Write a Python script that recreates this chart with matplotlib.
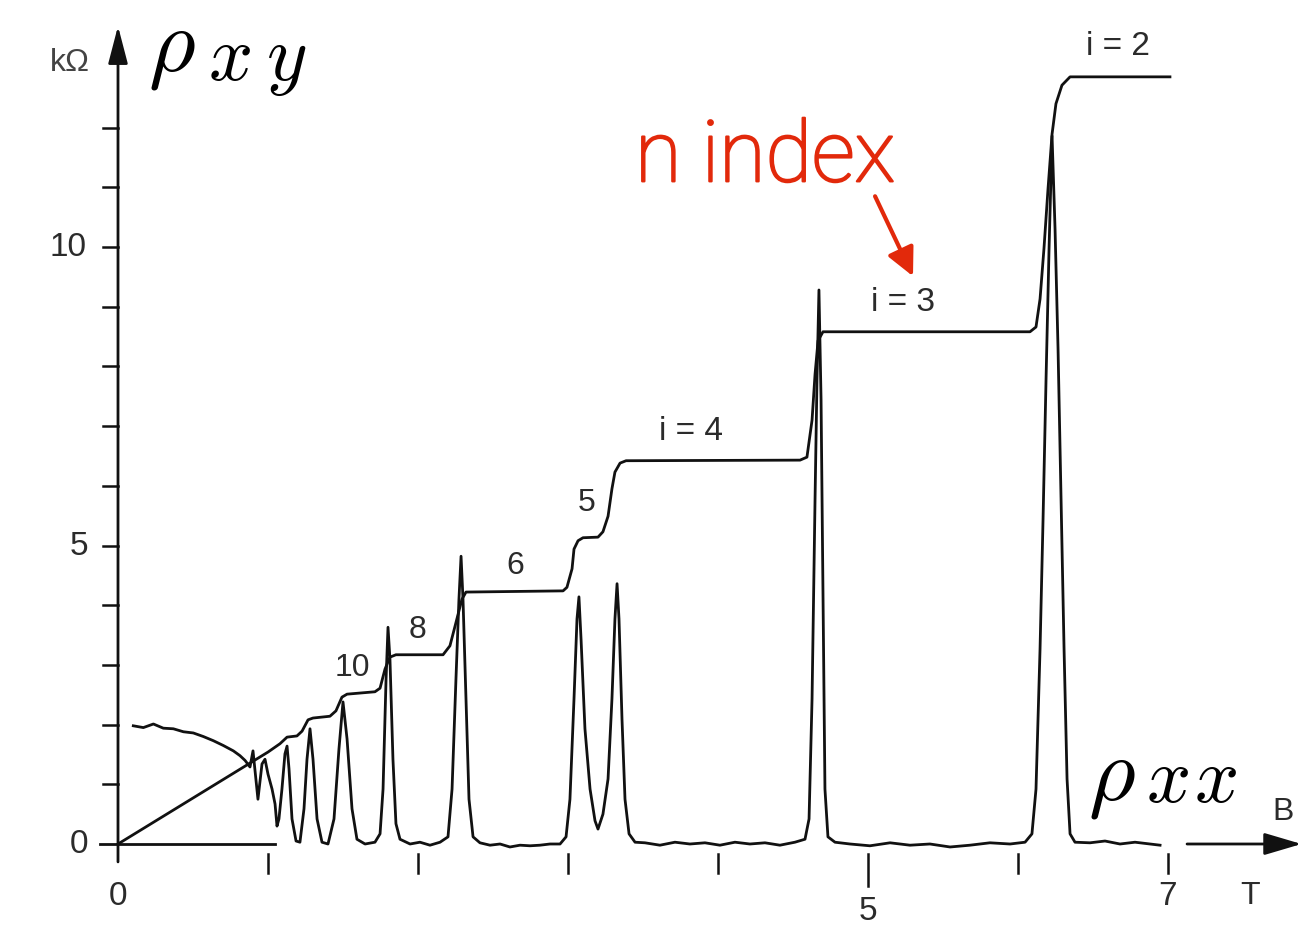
import matplotlib
matplotlib.use("Agg")
import matplotlib.pyplot as plt
import matplotlib.patheffects as pe

# ---------------- data (B in tesla, resistivity in kOhm) ----------------
rho_xy_B = [0.000, 1.000, 1.080, 1.127, 1.193, 1.227, 1.267, 1.300, 1.413, 1.453,
            1.493, 1.527, 1.713, 1.747, 1.780, 1.813, 1.853, 2.167, 2.213, 2.247,
            2.293, 2.320, 2.967, 2.993, 3.027, 3.040, 3.067, 3.100, 3.200, 3.233,
            3.267, 3.293, 3.313, 3.347, 3.387, 4.547, 4.593, 4.627, 4.647, 4.667,
            4.700, 6.080, 6.120, 6.147, 6.173, 6.200, 6.227, 6.253, 6.293, 6.347,
            7.013]
rho_xy_R = [0.00, 1.54, 1.68, 1.79, 1.81, 1.89, 2.08, 2.11, 2.14, 2.23,
            2.46, 2.51, 2.55, 2.61, 2.93, 3.13, 3.17, 3.17, 3.32, 3.65,
            4.10, 4.22, 4.24, 4.30, 4.61, 4.94, 5.08, 5.13, 5.14, 5.23,
            5.49, 5.95, 6.23, 6.38, 6.42, 6.43, 6.48, 7.10, 7.87, 8.43,
            8.58, 8.58, 8.66, 9.13, 9.97, 10.97, 11.89, 12.40, 12.71, 12.85,
            12.85]

rho_xx_B = [0.102, 0.169, 0.236, 0.302, 0.369, 0.436, 0.502, 0.569, 0.636, 0.702,
            0.769, 0.813, 0.847, 0.880, 0.900, 0.933, 0.960, 0.980, 1.000, 1.027,
            1.047, 1.060, 1.073, 1.093, 1.113, 1.127, 1.140, 1.160, 1.187, 1.213,
            1.240, 1.260, 1.280, 1.300, 1.327, 1.360, 1.400, 1.440, 1.473, 1.500,
            1.527, 1.560, 1.593, 1.647, 1.713, 1.747, 1.767, 1.787, 1.800, 1.813,
            1.833, 1.853, 1.880, 1.947, 2.013, 2.080, 2.147, 2.200, 2.227, 2.253,
            2.273, 2.287, 2.300, 2.320, 2.340, 2.367, 2.413, 2.480, 2.547, 2.613,
            2.680, 2.747, 2.813, 2.880, 2.947, 2.987, 3.013, 3.040, 3.060, 3.073,
            3.087, 3.113, 3.147, 3.180, 3.200, 3.233, 3.267, 3.293, 3.313, 3.327,
            3.340, 3.360, 3.380, 3.407, 3.447, 3.513, 3.613, 3.713, 3.813, 3.913,
            4.013, 4.113, 4.213, 4.313, 4.413, 4.513, 4.580, 4.607, 4.627, 4.647,
            4.660, 4.673, 4.687, 4.700, 4.713, 4.733, 4.780, 4.880, 5.013, 5.147,
            5.280, 5.413, 5.547, 5.680, 5.813, 5.947, 6.047, 6.093, 6.120, 6.147,
            6.167, 6.187, 6.207, 6.227, 6.247, 6.267, 6.287, 6.307, 6.327, 6.347,
            6.380, 6.480, 6.580, 6.680, 6.780, 6.880, 6.947]
rho_xx_R = [1.98, 1.95, 2.01, 1.94, 1.93, 1.88, 1.86, 1.80, 1.73, 1.65,
            1.56, 1.48, 1.40, 1.29, 1.56, 0.75, 1.34, 1.42, 1.17, 0.92,
            0.67, 0.30, 0.42, 0.92, 1.51, 1.64, 1.26, 0.42, 0.05, 0.03,
            0.59, 1.42, 1.93, 1.42, 0.42, 0.03, 0.00, 0.42, 1.59, 2.38,
            1.76, 0.59, 0.08, 0.00, 0.03, 0.17, 0.92, 2.76, 3.63, 3.10,
            1.42, 0.34, 0.08, 0.00, 0.03, -0.02, 0.03, 0.12, 0.92, 2.76,
            4.10, 4.82, 4.10, 2.43, 0.75, 0.12, 0.02, -0.02, 0.00, -0.05,
            -0.02, -0.03, -0.02, 0.00, 0.00, 0.12, 0.75, 2.43, 3.77, 4.14,
            3.43, 1.93, 0.92, 0.39, 0.25, 0.50, 1.09, 2.43, 3.77, 4.36,
            3.77, 2.09, 0.75, 0.17, 0.03, 0.02, -0.02, 0.03, 0.00, 0.02,
            -0.02, 0.03, 0.00, 0.02, -0.02, 0.03, 0.08, 0.42, 2.43, 5.78,
            7.79, 9.28, 7.45, 4.10, 0.92, 0.12, 0.03, 0.00, -0.03, 0.02,
            -0.02, 0.00, -0.05, -0.02, 0.02, 0.00, 0.03, 0.17, 0.92, 3.27,
            5.44, 7.79, 9.97, 11.86, 10.30, 8.29, 5.78, 3.27, 1.09, 0.17,
            0.03, 0.02, 0.05, 0.00, 0.03, 0.00, -0.02]

x_ticks = [1, 2, 3, 4, 5, 6, 7]
x_tick_labels = {0: "0", 5: "5", 7: "7"}
y_ticks = [1, 2, 3, 4, 5, 6, 7, 8, 9, 10, 11, 12]
y_tick_labels = {0: "0", 5: "5", 10: "10"}

plateau_labels = ["10", "8", "6", "5", "i = 4", "i = 3", "i = 2"]
plateau_B = [1.56, 2.00, 2.647, 3.127, 3.82, 5.233, 6.667]
plateau_R = [2.96, 3.60, 4.67, 5.73, 6.92, 9.08, 13.37]

# ---------------- figure ----------------
plt.rcParams["mathtext.fontset"] = "cm"
W, H, DPI = 1307, 928, 100
fig = plt.figure(figsize=(W / DPI, H / DPI), dpi=DPI)
ax = fig.add_axes([0, 0, 1, 1])
PX_B = 150.0
PX_R = 59.7
ax.set_xlim(-118 / PX_B, (W - 118) / PX_B)
ax.set_ylim(-(H - 845) / PX_R, 845 / PX_R)
ax.axis("off")

ink = "#111111"
txt = "#2b2b2b"
red = "#E2290B"
sans = ["Liberation Sans", "DejaVu Sans"]

# curves
ax.plot(rho_xy_B, rho_xy_R, color=ink, lw=2.0, solid_joinstyle="round")
ax.plot(rho_xx_B, rho_xx_R, color=ink, lw=2.0, solid_joinstyle="round")

# axes (hand drawn style)
ax.plot([-0.12, 1.047], [0, 0], color=ink, lw=2.0)
ax.annotate("", xy=(0, 13.70), xytext=(0, -0.30),
            arrowprops=dict(arrowstyle="-|>,head_length=1.15,head_width=0.30",
                            mutation_scale=20, color=ink, lw=2.0, shrinkA=0, shrinkB=0))
ax.annotate("", xy=(7.89, 0), xytext=(7.127, 0),
            arrowprops=dict(arrowstyle="-|>,head_length=1.15,head_width=0.34",
                            mutation_scale=20, color=ink, lw=2.0, shrinkA=0, shrinkB=0))

for t in y_ticks:
    ax.plot([-0.10, 0], [t, t], color=ink, lw=1.8)
for t in x_ticks:
    lo = -0.70 if t == 5 else -0.48
    ax.plot([t, t], [-0.16, lo], color=ink, lw=1.8)

for t, s in x_tick_labels.items():
    yy = -1.12 if t == 5 else -0.86
    ax.text(t, yy, s, ha="center", va="center", fontsize=24, color=txt, family=sans)
ax.text(7.547, -0.86, "T", ha="center", va="center", fontsize=23, color=txt, family=sans)
ax.text(7.767, 0.55, "B", ha="center", va="center", fontsize=23, color=txt, family=sans)

for t, s in y_tick_labels.items():
    xx = -0.33 if t == 10 else -0.26
    ax.text(xx, t, s, ha="center", va="center", fontsize=24, color=txt, family=sans)
ax.text(-0.32, 13.10, "k\u03A9", ha="center", va="center", fontsize=23, color="#444444", family=sans)

for s, b, r in zip(plateau_labels, plateau_B, plateau_R):
    fs = 24 if s.startswith("i") else 23
    ax.text(b, r, s, ha="center", va="center", fontsize=fs, color=txt, family=sans)

# big math labels (rho with enlarged subscripts)
ax.text(0.20, 12.98, r"$\rho$", ha="left", va="baseline", fontsize=65, color="black")
ax.text(0.60, 12.81, r"$x$", ha="left", va="baseline", fontsize=56, color="black")
ax.text(0.985, 12.81, r"$y$", ha="left", va="baseline", fontsize=56, color="black")

ax.text(6.47, 0.76, r"$\rho$", ha="left", va="baseline", fontsize=65, color="black")
ax.text(6.855, 0.72, r"$x$", ha="left", va="baseline", fontsize=56, color="black")
ax.text(7.175, 0.72, r"$x$", ha="left", va="baseline", fontsize=56, color="black")

# red annotation
ax.text(3.447, 11.10, "n index", ha="left", va="baseline", fontsize=61, color=red,
        family=["Roboto", "Liberation Sans"], fontweight="light",
        path_effects=[pe.withStroke(linewidth=1.6, foreground=red)])
ax.annotate("", xy=(5.30, 9.51), xytext=(5.047, 10.85),
            arrowprops=dict(arrowstyle="-|>,head_length=0.85,head_width=0.42",
                            mutation_scale=20, color=red, lw=3.0, shrinkA=0, shrinkB=0))

fig.savefig("out.png", dpi=DPI, facecolor="white")
